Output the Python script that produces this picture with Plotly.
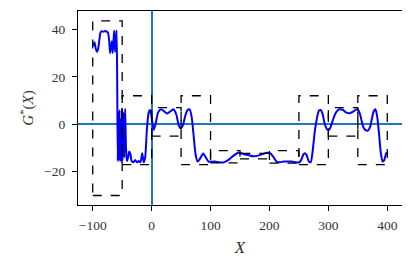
import plotly.graph_objects as go

# curve G*(X)
x_vals = [-99, -97, -95, -93, -91, -89, -87, -85, -82, -79, -76, -74, -72, -70.5, -69, -67.5, -66, -64.5,
          -63.5, -62, -60.5, -59.5, -58.5, -57.5, -56.5, -55.5, -54.5, -53.5, -52.5, -51.5, -50.5, -49.5,
          -48, -46.5, -45, -43.5, -42, -40, -38, -36, -34, -31, -28, -25, -22, -19, -16, -13.5, -11,
          -8, -5, -2.5, 0.5, 3.5, 7, 11, 16, 21, 26, 31, 37, 42, 46, 49.5, 53, 57, 61, 64.5, 68, 71, 74.5,
          78, 82, 87.5, 92, 97, 100, 107, 114, 121, 127, 133, 140, 147, 152, 158, 164, 172, 181, 190, 196,
          201, 206, 212, 218, 224, 231, 238, 244, 250, 254, 257, 260, 263, 266.5, 270, 273, 277, 281, 284,
          287, 290, 294, 298, 301, 304, 308, 312, 316, 320, 325, 330, 336, 342, 347, 350, 354, 359, 363,
          367, 371, 374, 377, 380, 383, 386, 389, 392, 395, 398, 400]
y_vals = [33, 34.5, 32, 30.5, 31.5, 35, 38.5, 39.2, 39, 39.3, 39, 38.5, 35, 30, 33, 35, 30, 36,
          39.5, 30.5, 36, 39.5, 20, -15.5, 5, -15.5, 6, -15, 2, -16, 6.5, -15.5,
          5, -14, 6.5, -10, -15.5, -14, -11.5, -12.5, -15.5, -16, -15, -16, -15.5, -16, -12.2, -16, -14,
          -2, 5, 6, 2, -2.4, 0.5, 5, 6.3, 5.5, 4.5, 5.3, 6.3, 4, -0.5, -1.8, -0.5, 3.5, 6, 6.3, 3, -4, -12.5,
          -15.7, -14.5, -12.3, -14, -15.8, -15.8, -15.7, -16, -16.1, -15.5, -14.5, -13, -12, -12.2, -12.7, -12.9, -13.5, -13.2, -12.4, -12,
          -12.2, -13.5, -15.7, -16, -15.7, -15.7, -15.7, -16, -16.1, -15, -13, -12.2, -13, -15.5, -16, -12, -3, 3, 5.8,
          6, 4.5, 0, -2.2, -2.4, -1, 2, 4.5, 5.9, 6.3, 6, 5, 4.6, 5.3, 6.2, 6.3, 4, -1, -2.5,
          -2.7, -1, 2.5, 5.5, 6.3, 3, -4, -12, -15.7, -15, -12.3, -12]

# dashed boxes
box_x0 = [-100, -50, 0, 50, 100, 150, 200, 250, 300, 350]
box_x1 = [-50, 0, 50, 100, 150, 200, 250, 300, 350, 400]
box_y0 = [-30, -17, -5, -17, -16.3, -14.6, -16.4, -17, -5, -17]
box_y1 = [43.5, 12, 7, 12, -11.1, -12.3, -11.1, 12, 7, 12]

x_ticks = [-100, 0, 100, 200, 300, 400]
y_ticks = [-20, 0, 20, 40]

fig = go.Figure()
fig.add_trace(go.Scatter(x=x_vals, y=y_vals, mode="lines",
                         line=dict(color="#0000ff", width=2, shape="spline", smoothing=0.6),
                         showlegend=False, hoverinfo="skip"))

for a, b, c, d in zip(box_x0, box_x1, box_y0, box_y1):
    fig.add_shape(type="rect", xref="x", yref="y", x0=a, x1=b, y0=c, y1=d,
                  line=dict(color="black", width=1.3, dash="dash"), layer="above")

font = dict(family="Liberation Serif, DejaVu Serif, serif", size=13.5, color="#333")
fig.update_layout(
    width=410, height=267,
    margin=dict(l=70, r=16, t=3, b=70, autoexpand=False),
    paper_bgcolor="white", plot_bgcolor="white",
    font=font,
    showlegend=False,
)
common = dict(ticks="outside", ticklen=5, tickwidth=1, tickcolor="black",
              showline=True, linecolor="black", linewidth=1.2, mirror=True, showgrid=False,
              zeroline=True, zerolinecolor="#1f77b4", zerolinewidth=1.5, automargin=False,
              tickfont=dict(size=13.5))
fig.update_xaxes(range=[-125, 425], tickvals=x_ticks, **common, ticklabelstandoff=3,
                 title=dict(text="<i>X</i>", font=dict(size=17), standoff=8))
fig.update_yaxes(range=[-34, 47.7], tickvals=y_ticks, **common, ticklabelstandoff=4,
                 title=dict(text="<i>G</i><sup>*</sup>(<i>X</i>)", font=dict(size=15), standoff=6))

fig.write_html("out.html")
